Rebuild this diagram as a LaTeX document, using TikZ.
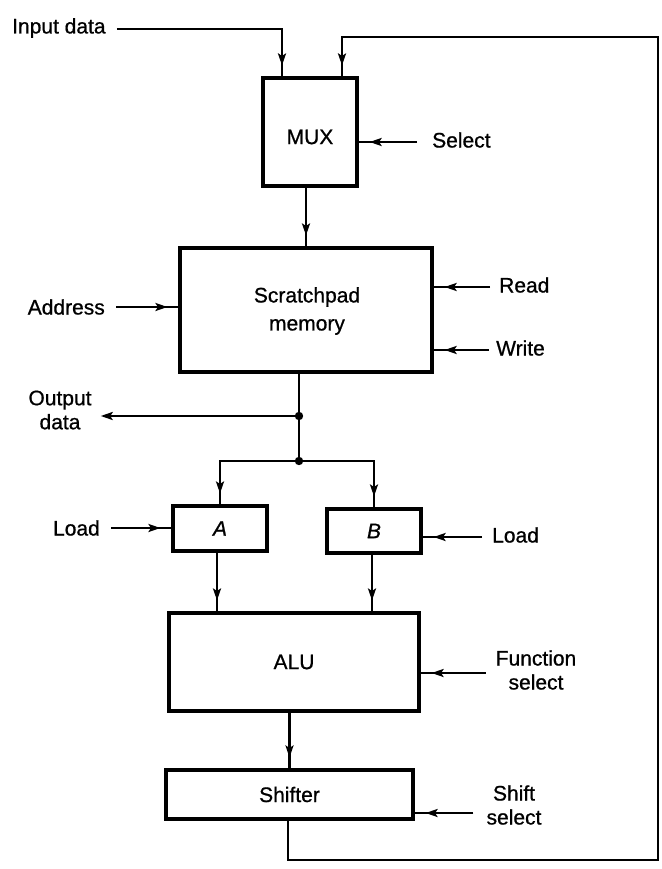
\documentclass[tikz,border=0pt]{standalone}
\usepackage{fontspec}
\setmainfont{Liberation Sans}[FakeBold=0.8]
\usetikzlibrary{arrows.meta,decorations.markings}
\begin{document}
\begin{tikzpicture}[x=1pt,y=-1pt,
  box/.style={draw,line width=3.1pt,inner sep=0pt},
  lbl/.style={inner sep=1pt,font=\fontsize{21}{24}\selectfont},
  conn/.style={line width=2.8pt},
  arr/.style={conn,postaction={decorate},
    decoration={markings,mark=at position -11pt with {\arrow{Stealth[length=12pt,width=8pt,inset=2.5pt]}}}},
  endarr/.style={conn,-{Stealth[length=12pt,width=8pt,inset=2.5pt]}}]
\useasboundingbox (0,0) rectangle (661,869);
% boxes
\node[box,minimum width=94pt,minimum height=108pt] (mux) at (310,132) {};
\node[lbl] (muxt) at (310,137) {MUX};
\node[box,minimum width=252pt,minimum height=124pt] (mem) at (306,310) {};
\node[lbl,align=center,font=\fontsize{21}{28}\selectfont] (memt) at (307,311) {Scratchpad\\memory};
\node[box,minimum width=94pt,minimum height=45pt,font=\fontsize{21}{24}\selectfont\itshape] (A) at (220,528.5) {A};
\node[box,minimum width=94pt,minimum height=44pt,font=\fontsize{21}{24}\selectfont\itshape] (B) at (374,531) {B};
\node[box,minimum width=250pt,minimum height=98pt,font=\fontsize{21}{24}\selectfont] (alu) at (294,662) {ALU};
\node[box,minimum width=247pt,minimum height=49pt,font=\fontsize{21}{24}\selectfont] (sh) at (289.5,794.5) {Shifter};
% labels
\node[lbl,anchor=west] (indata) at (11,28) {Input data};
\node[lbl,anchor=west] (sel) at (431,140) {Select};
\node[lbl,anchor=west] (read) at (498,285) {Read};
\node[lbl,anchor=west] (write) at (495,348) {Write};
\node[lbl,anchor=east] (addr) at (106,307) {Address};
\node[lbl,align=center] (out) at (60,410) {Output\\data};
\node[lbl,anchor=east] (loadA) at (101,528) {Load};
\node[lbl,anchor=west] (loadB) at (491,535) {Load};
\node[lbl,align=center] (fs) at (536,670) {Function\\select};
\node[lbl,align=center] (ss) at (514,805) {Shift\\select};
% coordinates
\coordinate (j1) at (299,416);
\coordinate (j2) at (299,461);
\coordinate (fbR) at (658,860);
\coordinate (fbT) at (658,37);
% connectors
\draw[arr] ([xshift=10pt,yshift=-1pt]indata.east) -| ([xshift=-28pt]mux.north);
\draw[arr] (sh.south -| 288,0) |- (fbR) -- (fbT) -| ([xshift=32pt]mux.north);
\draw[arr] ([xshift=-14pt,yshift=-2pt]sel.west) -- ([yshift=-2pt]mux.east |- sel.west);
\draw[arr] (mux.south -| mem.north) -- (mem.north);
\draw[arr] ([xshift=-8pt,yshift=-2pt]read.west) -- ([yshift=-2pt]mem.east |- read.west);
\draw[arr] ([xshift=-6pt,yshift=-2pt]write.west) -- ([yshift=-2pt]mem.east |- write.west);
\draw[arr] ([xshift=10pt]addr.east) -- (mem.west |- addr.east);
\draw[conn] (mem.south -| j1) -- (j2);
\fill (j1) circle (4.2pt);
\fill (j2) circle (4.2pt);
\draw[endarr] (j1) -- ([xshift=8pt]out.east |- j1);
\draw[arr] (j2) -| (A.north);
\draw[arr] (j2) -| (B.north);
\draw[arr] ([xshift=10pt]loadA.east) -- (A.west |- loadA.east);
\draw[arr] ([xshift=-9pt,yshift=-2pt]loadB.west) -- ([yshift=-2pt]B.east |- loadB.west);
\draw[arr] ([xshift=-3pt]A.south) -- ([xshift=-3pt]A.south |- alu.north);
\draw[arr] ([xshift=-2pt]B.south) -- ([xshift=-2pt]B.south |- alu.north);
\draw[arr] ([xshift=-9pt,yshift=-3pt]fs.west) -- ([yshift=-3pt]alu.east |- fs.west);
\draw[arr] (alu.south -| sh.north) -- (sh.north);
\draw[arr] ([xshift=-12pt,yshift=-8pt]ss.west) -- ([yshift=-8pt]sh.east |- ss.west);
\end{tikzpicture}
\end{document}
